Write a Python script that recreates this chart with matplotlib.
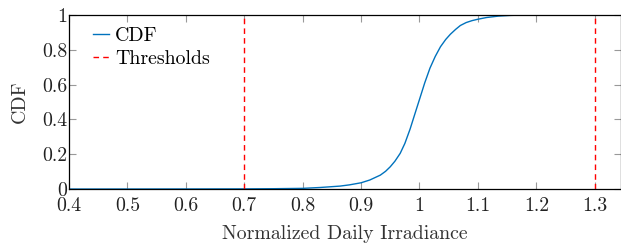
import numpy as np
import matplotlib.pyplot as plt

plt.rcParams['font.family'] = 'serif'
plt.rcParams['font.serif'] = ['cmr10']
plt.rcParams['axes.formatter.use_mathtext'] = True
plt.rcParams['mathtext.fontset'] = 'cm'

# CDF of normalized daily irradiance
irr = [0.40, 0.50, 0.60, 0.70, 0.75, 0.80, 0.83, 0.864, 0.88, 0.90, 0.915,
       0.933, 0.942, 0.950, 0.958, 0.967, 0.975, 0.984, 0.992, 1.001, 1.009,
       1.018, 1.027, 1.036, 1.045, 1.053, 1.062, 1.070, 1.080, 1.090, 1.100,
       1.115, 1.135, 1.155, 1.175]
cdf = [0.0, 0.0002, 0.0005, 0.001, 0.002, 0.004, 0.009, 0.017, 0.024, 0.036, 0.052,
       0.080, 0.102, 0.128, 0.160, 0.205, 0.262, 0.345, 0.430, 0.525, 0.610,
       0.695, 0.762, 0.818, 0.860, 0.890, 0.918, 0.940, 0.957, 0.968, 0.976,
       0.986, 0.994, 0.998, 1.0]
thresholds = [0.7, 1.3]

xticks = [0.4, 0.5, 0.6, 0.7, 0.8, 0.9, 1.0, 1.1, 1.2, 1.3]
xtick_labels = ['0.4', '0.5', '0.6', '0.7', '0.8', '0.9', '1', '1.1', '1.2', '1.3']
yticks = [0, 0.2, 0.4, 0.6, 0.8, 1]
ytick_labels = ['0', '0.2', '0.4', '0.6', '0.8', '1']

fs = 14.3

fig = plt.figure(figsize=(6.21, 2.43), dpi=100)
ax = fig.add_axes([0.111, 0.222, 0.889, 0.716])

ax.plot(irr, cdf, color='#0072BD', lw=1.0, label='CDF')
for i, t in enumerate(thresholds):
    ax.axvline(t, color='red', ls=(0, (4, 3)), lw=1.0,
               label='Thresholds' if i == 0 else None)

ax.set_xlim(0.4, 1.345)
ax.set_ylim(0, 1)
ax.set_xticks(xticks)
ax.set_xticklabels(xtick_labels)
ax.set_yticks(yticks)
ax.set_yticklabels(ytick_labels)
ax.tick_params(direction='in', length=5, width=0.8, color='#999999',
               top=True, right=True, labelsize=fs, labelcolor='#222222')
ax.tick_params(axis='x', pad=6)
ax.tick_params(axis='y', pad=1)
for s in ax.spines.values():
    s.set_linewidth(0.9)

ax.set_xlabel('Normalized Daily Irradiance', fontsize=fs, color='#333333', labelpad=7)
ax.set_ylabel('CDF', fontsize=fs, color='#333333', labelpad=10)

ax.legend(loc='upper left', frameon=False, fontsize=fs, handlelength=0.8,
          handletextpad=0.3, labelspacing=0.25, borderaxespad=0, borderpad=0,
          bbox_to_anchor=(0.0435, 0.93))

fig.savefig('out.png', dpi=100)
